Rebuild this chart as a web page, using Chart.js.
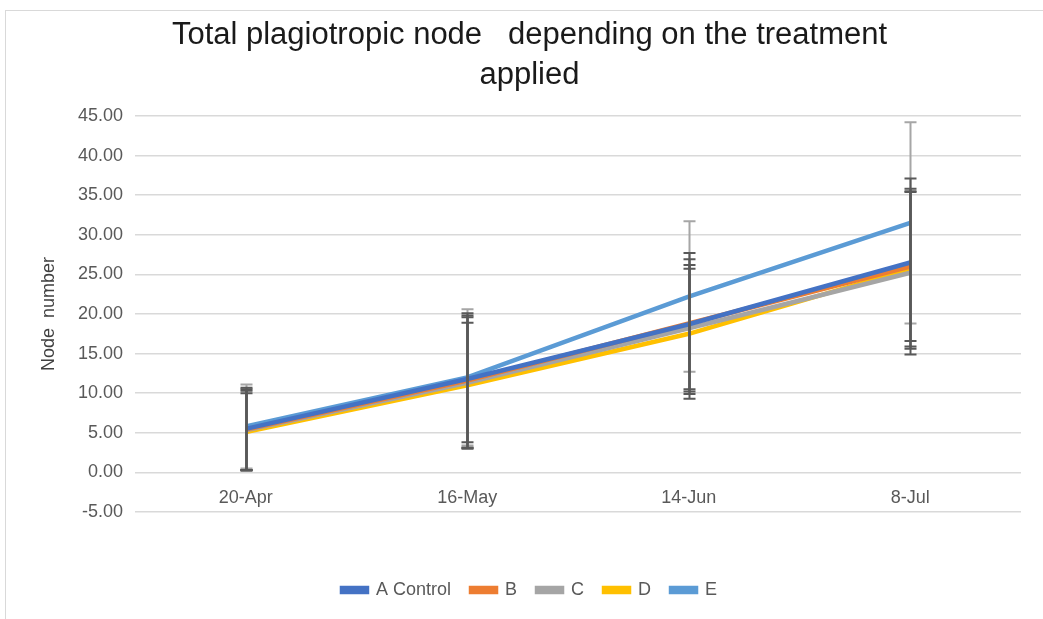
<!DOCTYPE html>
<html>
<head>
<meta charset="utf-8">
<script src="https://cdn.jsdelivr.net/npm/chart.js@4.4.1/dist/chart.umd.min.js"></script>
<style>
  html, body { margin: 0; padding: 0; background: #fff; }
  #wrap { width: 1043px; height: 619px; position: relative; }
</style>
</head>
<body>
<div id="wrap"><canvas id="chart" width="1043" height="619"></canvas></div>
<script>
// Dates on the category axis
const dates = ['20-Apr', '16-May', '14-Jun', '8-Jul'];

// Mean node number per treatment
const controlA = [5.5, 11.8, 18.7, 26.5];
const treatB = [5.4, 11.6, 18.8, 26.0];
const treatC = [5.3, 11.3, 18.2, 25.2];
const treatD = [5.1, 11.0, 17.5, 25.7];
const treatE = [5.8, 12.0, 22.2, 31.5];

// Error bar half-widths (+/-)
const errA = [5.2, 8.0, 8.2, 10.6];
const errB = [5.1, 8.5, 8.9, 9.4];
const errC = [5.0, 8.3, 8.0, 10.3];
const errD = [4.9, 7.9, 8.2, 10.1];
const errE = [5.3, 8.6, 9.5, 12.7];

const yTicks = [-5, 0, 5, 10, 15, 20, 25, 30, 35, 40, 45];

const FONT = "'Liberation Sans', Arial, sans-serif";
const TEXT = '#595959';

const series = [
  { label: 'A Control', data: controlA, err: errA, color: '#4472C4', errColor: '#595959' },
  { label: 'B', data: treatB, err: errB, color: '#ED7D31', errColor: '#595959' },
  { label: 'C', data: treatC, err: errC, color: '#A5A5A5', errColor: '#595959' },
  { label: 'D', data: treatD, err: errD, color: '#FFC000', errColor: '#595959' },
  { label: 'E', data: treatE, err: errE, color: '#5B9BD5', errColor: '#a6a6a6' }
];

// outer frame of the chart
const framePlugin = {
  id: 'frame',
  beforeDraw(chart) {
    const ctx = chart.ctx;
    ctx.save();
    ctx.strokeStyle = '#d9d9d9';
    ctx.lineWidth = 1;
    ctx.strokeRect(5.5, 10.5, chart.width, chart.height);
    ctx.restore();
  }
};

// error bars, light E bars first so the dark ones sit on top
const errorBars = {
  id: 'errorBars',
  afterDatasetsDraw(chart) {
    const ctx = chart.ctx;
    const x = chart.scales.x;
    const y = chart.scales.y;
    const order = [4, 0, 1, 2, 3];
    ctx.save();
    ctx.lineWidth = 2;
    order.forEach(i => {
      const s = series[i];
      ctx.strokeStyle = s.errColor;
      s.data.forEach((v, j) => {
        const px = Math.round(x.getPixelForValue(j)) + 0.5;
        const top = y.getPixelForValue(v + s.err[j]);
        const bot = y.getPixelForValue(v - s.err[j]);
        ctx.beginPath();
        ctx.moveTo(px, top);
        ctx.lineTo(px, bot);
        ctx.moveTo(px - 6, top);
        ctx.lineTo(px + 6, top);
        ctx.moveTo(px - 6, bot);
        ctx.lineTo(px + 6, bot);
        ctx.stroke();
      });
    });
    ctx.restore();
  }
};

new Chart(document.getElementById('chart'), {
  type: 'line',
  data: {
    labels: dates,
    datasets: series.map(s => ({
      label: s.label,
      data: s.data,
      borderColor: s.color,
      backgroundColor: s.color,
      borderWidth: 4.5,
      pointRadius: 0,
      tension: 0,
      fill: false
    }))
  },
  options: {
    responsive: false,
    animation: false,
    layout: { padding: { left: 38, right: 22, top: 6, bottom: 10 } },
    plugins: {
      title: {
        display: true,
        text: ['Total plagiotropic node   depending on the treatment', 'applied'],
        color: '#1a1a1a',
        font: { family: FONT, size: 31, weight: 'normal', lineHeight: 1.29 },
        padding: { top: 9, bottom: 21 }
      },
      legend: {
        position: 'bottom',
        title: { display: true, text: ' ', font: { size: 10 }, padding: { top: 37, bottom: 0 } },
        labels: {
          color: TEXT,
          font: { family: FONT, size: 18 },
          boxWidth: 25,
          boxHeight: 4,
          padding: 20
        }
      },
      tooltip: { enabled: false }
    },
    scales: {
      x: {
        position: { y: 0 },
        offset: true,
        grid: { display: false, drawTicks: false },
        border: { display: false },
        ticks: { color: TEXT, font: { family: FONT, size: 18 }, padding: 15, maxRotation: 0 }
      },
      y: {
        min: -5,
        max: 45,
        afterBuildTicks: axis => { axis.ticks = yTicks.map(v => ({ value: v })); },
        afterFit: axis => { axis.width = 97; },
        grid: { color: '#d9d9d9', lineWidth: 1.5, drawTicks: false },
        border: { display: false },
        title: {
          display: true,
          text: 'Node  number',
          color: '#404040',
          font: { family: FONT, size: 18 },
          padding: { top: 0, bottom: 8 }
        },
        ticks: {
          color: TEXT,
          font: { family: FONT, size: 18 },
          padding: 12,
          callback: v => v.toFixed(2)
        }
      }
    }
  },
  plugins: [framePlugin, errorBars]
});
</script>
</body>
</html>
